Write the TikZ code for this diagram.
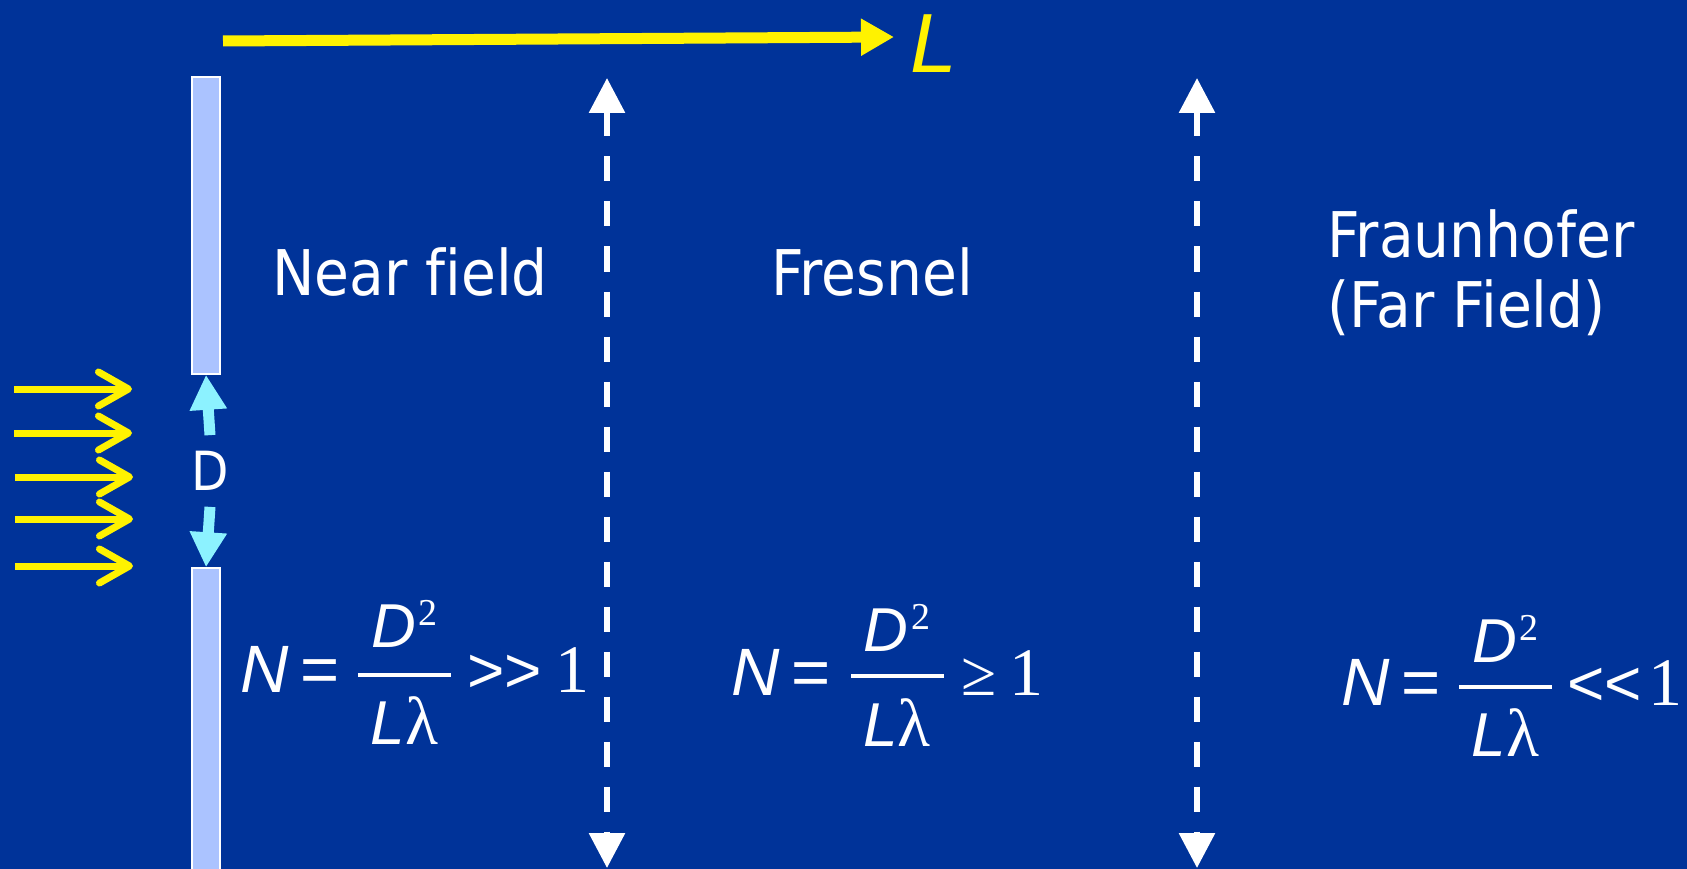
\documentclass[tikz,border=0pt]{standalone}
\usepackage{fontspec}
\usepackage{tikz}
\usetikzlibrary{arrows.meta}

\newfontfamily\labelfont{DejaVu Sans}[FakeStretch=0.9, Ligatures={NoCommon}]
\newfontfamily\arialfont{Liberation Sans}
\newfontfamily\timesfont{Liberation Serif}

\definecolor{slideblue}{RGB}{0,51,153}
\definecolor{slitblue}{RGB}{171,195,255}
\definecolor{dcyan}{RGB}{140,242,255}

\begin{document}
\begin{tikzpicture}[
    x=1pt, y=-1pt,
    every node/.style={inner sep=0pt, text=white},
    lbl/.style={font=\labelfont\fontsize{63}{76}\selectfont},
    slit/.style={rectangle, draw=white, line width=1.5pt, fill=slitblue, minimum width=28pt},
    fracbar/.style={rectangle, fill=white, minimum width=93pt, minimum height=4pt},
    mvar/.style={font=\arialfont\itshape\fontsize{67}{80}\selectfont},
    mfrac/.style={font=\arialfont\itshape\fontsize{62}{75}\selectfont},
    mrel/.style={font=\arialfont\upshape\fontsize{64}{77}\selectfont},
    sepline/.style={white, line width=6pt, dash pattern=on 25pt off 20pt,
        {Triangle[length=35pt,width=35pt]}-{Triangle[length=35pt,width=35pt]}},
    darrow/.style={dcyan, line width=11pt, -{Triangle[length=35pt,width=35pt]}},
    inray/.style={yellow, line width=7pt, -{Straight Barb[length=30pt,width=34pt,round]}},
    axisarrow/.style={yellow, line width=11pt, -{Triangle[length=33pt,width=35pt]}}
]
\fill[slideblue] (0,0) rectangle (1687,869);
\useasboundingbox (0,0) rectangle (1687,869);

% slits
\node[slit, minimum height=297pt] (ubar) at (206,225.5) {};
\node[slit, minimum height=303pt] (lbar) at (206,719.5) {};
\node[lbl, font=\labelfont\fontsize{54}{64}\selectfont, inner sep=16pt] (dlab) at (210,471) {D};
\draw[darrow] (dlab.north) -- (ubar.south);
\draw[darrow] (dlab.south) -- (lbar.north);

% incoming light
\coordinate (ray1s) at (14,389);
\coordinate (ray1e) at (132,389);
\coordinate (ray2s) at (14,433);
\coordinate (ray2e) at (132,433);
\coordinate (ray3s) at (15,477);
\coordinate (ray3e) at (133,477);
\coordinate (ray4s) at (15,519);
\coordinate (ray4e) at (133,519);
\coordinate (ray5s) at (15,566);
\coordinate (ray5e) at (133,566);
\draw[inray] (ray1s) -- (ray1e);
\draw[inray] (ray2s) -- (ray2e);
\draw[inray] (ray3s) -- (ray3e);
\draw[inray] (ray4s) -- (ray4e);
\draw[inray] (ray5s) -- (ray5e);

% distance axis
\coordinate (axisstart) at (223,41);
\coordinate (axisend) at (894,37);
\draw[axisarrow] (axisstart) -- (axisend);
\node[anchor=base west, text=yellow, font=\arialfont\itshape\fontsize{84}{100}\selectfont] (llbl) at (910,73) {L};

% region borders
\coordinate (sep1top) at (607,78);
\coordinate (sep1bot) at (607,868);
\coordinate (sep2top) at (1197,78);
\coordinate (sep2bot) at (1197,868);
\draw[sepline] (sep1top) -- (sep1bot);
\draw[sepline] (sep2top) -- (sep2bot);

% region names
\node[lbl, anchor=base] (nearlbl) at (410,295) {Near f\kern0pt ield};
\node[lbl, anchor=base] (fresnellbl) at (872,295) {Fresnel};
\node[lbl, anchor=base west] (fraunlbl) at (1327,258) {Fraunhofer};
\node[lbl, anchor=base west] (farlbl) at (1327,327) {(Far Field)};

% near field number
\node[mvar, anchor=base west] (nearN) at (240,692) {N\hspace{12pt}{\upshape =}};
\node[fracbar] (nearbar) at (404.5,675) {};
\node[mfrac, anchor=base] (nearnum) at (404.5,647) {D\hspace{3pt}\raisebox{22pt}{\timesfont\upshape\fontsize{38}{38}\selectfont 2}};
\node[mfrac, anchor=base] (nearden) at (404.5,744) {L{\timesfont\upshape\fontsize{68}{80}\selectfont λ}};
\node[mrel, anchor=base west] (nearrel) at (467,692) {>\kern0pt>\hspace{14pt}{\timesfont\fontsize{68}{80}\selectfont 1}};

% Fresnel number
\node[mvar, anchor=base west] (fresN) at (731,695) {N\hspace{12pt}{\upshape =}};
\node[fracbar] (fresbar) at (897,676) {};
\node[mfrac, anchor=base] (fresnum) at (897,651) {D\hspace{3pt}\raisebox{22pt}{\timesfont\upshape\fontsize{38}{38}\selectfont 2}};
\node[mfrac, anchor=base] (fresden) at (897,746) {L{\timesfont\upshape\fontsize{68}{80}\selectfont λ}};
\node[mrel, anchor=base west] (fresrel) at (961,695) {{\timesfont ≥}\hspace{13pt}{\timesfont\fontsize{68}{80}\selectfont 1}};

% far field number
\node[mvar, anchor=base west] (farN) at (1341,705) {N\hspace{12pt}{\upshape =}};
\node[fracbar] (farbar) at (1505.5,686.5) {};
\node[mfrac, anchor=base] (farnum) at (1505.5,662) {D\hspace{3pt}\raisebox{22pt}{\timesfont\upshape\fontsize{38}{38}\selectfont 2}};
\node[mfrac, anchor=base] (farden) at (1505.5,756) {L{\timesfont\upshape\fontsize{68}{80}\selectfont λ}};
\node[mrel, anchor=base west] (farrel) at (1567,705) {<\kern0pt<\hspace{7pt}{\timesfont\fontsize{68}{80}\selectfont 1}};
\end{tikzpicture}
\end{document}
